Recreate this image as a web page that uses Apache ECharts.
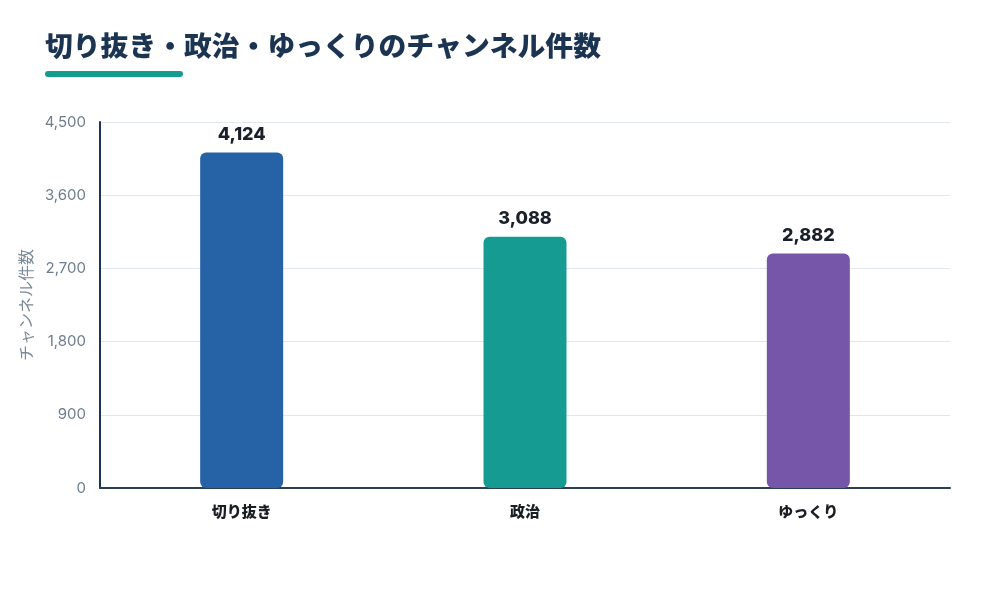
<!DOCTYPE html>
<html><head><meta charset="utf-8">
<script src="https://cdn.jsdelivr.net/npm/echarts@6/dist/echarts.min.js"></script>
<style>html,body{margin:0;padding:0;background:#fff}#c{width:1000px;height:611px}</style>
</head><body><div id="c"></div>
<script>
const categories = ['切り抜き', '政治', 'ゆっくり'];
const values = [4124, 3088, 2882];
const barColors = ['#2563a6', '#169b93', '#7656a8'];
const yTicks = [0, 900, 1800, 2700, 3600, 4500];

const FONT = '"Noto Sans CJK JP", "Noto Sans", sans-serif';
const chart = echarts.init(document.getElementById('c'), null, {renderer: 'canvas'});
chart.setOption({
  backgroundColor: '#ffffff',
  animation: false,
  title: {
    text: '切り抜き・政治・ゆっくりのチャンネル件数',
    left: 40, top: 27,
    textStyle: {fontFamily: FONT, fontSize: 27.8, fontWeight: 900, color: '#1b3452'}
  },
  graphic: [{
    type: 'rect', left: 45, top: 71,
    shape: {width: 138, height: 6, r: 3},
    style: {fill: '#169b8f'}
  }],
  grid: {left: 100, right: 50, top: 122, bottom: 123},
  xAxis: {
    type: 'category', data: categories,
    axisLine: {lineStyle: {color: '#2b3f57', width: 2}},
    axisTick: {show: false},
    axisLabel: {fontFamily: FONT, fontSize: 15, fontWeight: 900, color: '#1a1d24', margin: 16}
  },
  yAxis: {
    type: 'value', min: yTicks[0], max: yTicks[yTicks.length - 1], interval: 900,
    name: 'チャンネル件数', nameLocation: 'middle', nameGap: 62, nameRotate: 90,
    nameTextStyle: {fontFamily: FONT, fontSize: 16, color: '#7b8898'},
    axisLine: {show: true, lineStyle: {color: '#1b3452', width: 2}},
    axisTick: {show: false},
    axisLabel: {fontFamily: 'Inter, "Noto Sans", sans-serif', fontSize: 15, color: '#6e7c8d', margin: 14,
      formatter: v => v.toLocaleString('en-US')},
    splitLine: {lineStyle: {color: '#e1e6ee', width: 1}}
  },
  series: [{
    type: 'bar',
    data: values.map((v, i) => ({value: v, itemStyle: {color: barColors[i]}})),
    barWidth: 83,
    itemStyle: {borderRadius: 6},
    label: {
      show: true, position: 'top', distance: 9,
      fontFamily: 'Inter, "Noto Sans", sans-serif', fontSize: 18, fontWeight: 800, color: '#1a1f29',
      formatter: p => p.value.toLocaleString('en-US')
    }
  }]
});
</script></body></html>
